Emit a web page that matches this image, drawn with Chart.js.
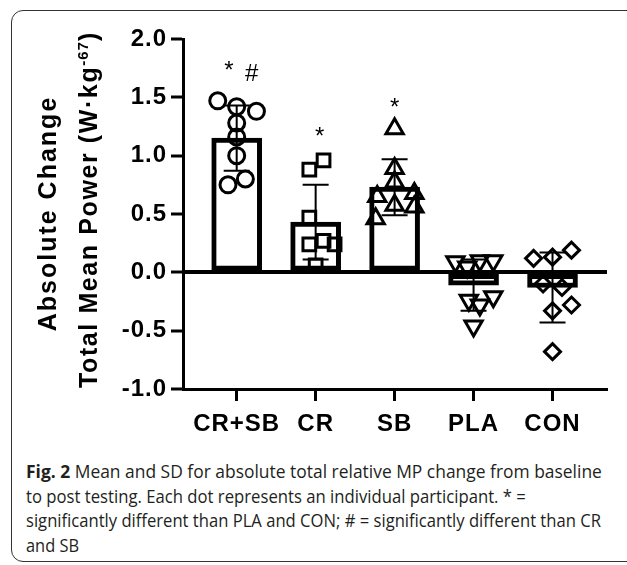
<!DOCTYPE html>
<html>
<head>
<meta charset="utf-8">
<script src="https://cdn.jsdelivr.net/npm/chart.js@4.4.0/dist/chart.umd.min.js"></script>
<style>
body{margin:0;background:#fff;width:627px;height:565px;overflow:hidden;position:relative}
#marco{position:absolute;left:11px;top:10px;width:660px;height:552px;border:1.5px solid #333;border-radius:12px;box-sizing:border-box}
#caja{position:absolute;left:0;top:0;width:627px;height:450px}
#pie{position:absolute;left:26px;top:459px;font-family:"Open Sans";font-size:18px;line-height:24.7px;color:#231f20;white-space:nowrap}
#pie div{transform-origin:0 0}
#l1{transform:scaleX(0.968)}
#l2{transform:scaleX(0.927)}
#l3{transform:scaleX(0.923)}
#l4{transform:scaleX(0.91)}
</style>
</head>
<body>
<div id="marco"></div>
<div id="caja"><canvas id="myChart" width="627" height="450"></canvas></div>
<div id="pie">
<div id="l1"><b>Fig. 2</b> Mean and SD for absolute total relative MP change from baseline</div>
<div id="l2">to post testing. Each dot represents an individual participant. * =</div>
<div id="l3">significantly different than PLA and CON; # = significantly different than CR</div>
<div id="l4">and SB</div>
</div>
<script>
// grupos y valores
const grupos = ['CR+SB', 'CR', 'SB', 'PLA', 'CON'];
const medias = [1.15, 0.43, 0.73, -0.11, -0.13];
const desv = [0.28, 0.32, 0.24, 0.22, 0.30];

// participantes (valor) y desplazamiento horizontal dentro del grupo
const crsbY = [1.47, 1.42, 1.38, 1.28, 1.16, 1.00, 0.75, 0.80];
const crsbJ = [-0.24, 0, 0.25, 0, 0, 0, -0.11, 0.11];
const crY = [0.96, 0.88, 0.47, 0.27, 0.24, 0.24, 0.06];
const crJ = [0.1, -0.08, -0.08, 0.1, -0.08, 0.24, 0];
const sbY = [1.23, 0.89, 0.775, 0.65, 0.675, 0.575, 0.56, 0.46];
const sbJ = [0, 0, 0, -0.22, 0.25, 0, 0.25, -0.24];
const plaY = [0.09, 0.045, 0.10, 0.10, -0.24, -0.28, -0.21, -0.46];
const plaJ = [-0.23, -0.08, 0.08, 0.25, -0.06, 0.08, 0.25, 0];
const conY = [0.12, 0.13, 0.19, -0.10, -0.13, -0.28, -0.33, -0.68];
const conJ = [-0.24, 0, 0.24, -0.12, 0.12, 0.24, 0, 0];

const yTicks = [-1.0, -0.5, 0.0, 0.5, 1.0, 1.5, 2.0];

// marcas de significancia
const anotTexto = ['*', '#', '*', '*'];
const anotX = [-0.1, 0.19, 1.05, 2.0];
const anotY = [1.77, 1.71, 1.205, 1.46];

const fuente = '"Liberation Sans", Arial, sans-serif';

function puntos(ys, js, i) {
    return ys.map((v, k) => ({ x: i + js[k], y: v }));
}

const espaciado = {
    id: 'espaciado',
    beforeUpdate(chart) { chart.ctx.letterSpacing = '1px'; },
    beforeDraw(chart) { chart.ctx.letterSpacing = '1px'; }
};

const barrasError = {
    id: 'barrasError',
    afterDatasetsDraw(chart) {
        const { ctx, scales: { x, y } } = chart;
        ctx.save();
        ctx.strokeStyle = '#000';
        ctx.lineWidth = 2;
        medias.forEach((m, i) => {
            const px = x.getPixelForValue(i);
            const arriba = y.getPixelForValue(m + desv[i]);
            const abajo = y.getPixelForValue(m - desv[i]);
            ctx.beginPath();
            ctx.moveTo(px, arriba); ctx.lineTo(px, abajo);
            ctx.moveTo(px - 13, arriba); ctx.lineTo(px + 13, arriba);
            ctx.moveTo(px - 13, abajo); ctx.lineTo(px + 13, abajo);
            ctx.stroke();
        });
        // asteriscos y almohadilla
        ctx.letterSpacing = '0px';
        ctx.fillStyle = '#000';
        ctx.font = '24px ' + fuente;
        ctx.textAlign = 'center';
        ctx.textBaseline = 'alphabetic';
        anotTexto.forEach((t, i) => {
            const m = ctx.measureText(t);
            const cy = y.getPixelForValue(anotY[i]);
            const base = cy + (m.actualBoundingBoxAscent - m.actualBoundingBoxDescent) / 2;
            ctx.fillText(t, x.getPixelForValue(anotX[i]), base);
        });
        ctx.restore();
    }
};

const tituloY = {
    id: 'tituloY',
    afterDraw(chart) {
        const ctx = chart.ctx;
        ctx.save();
        ctx.fillStyle = '#000';
        ctx.letterSpacing = '2px';
        ctx.textBaseline = 'alphabetic';
        ctx.translate(56, 213.5);
        ctx.rotate(-Math.PI / 2);
        ctx.font = 'bold 25px ' + fuente;
        ctx.textAlign = 'center';
        ctx.fillText('Absolute Change', 0, 0);
        ctx.restore();

        ctx.save();
        ctx.fillStyle = '#000';
        ctx.letterSpacing = '1.6px';
        ctx.textBaseline = 'alphabetic';
        ctx.textAlign = 'left';
        ctx.translate(97, 388);
        ctx.rotate(-Math.PI / 2);
        let pos = 0;
        const parte1 = 'Total Mean Power (W\u00B7kg';
        ctx.font = 'bold 25px ' + fuente;
        ctx.fillText(parte1, pos, 0);
        pos += ctx.measureText(parte1).width;
        ctx.font = 'bold 15px ' + fuente;
        ctx.letterSpacing = '1px';
        ctx.fillText('-67', pos, -9);
        pos += ctx.measureText('-67').width;
        ctx.font = 'bold 25px ' + fuente;
        ctx.letterSpacing = '1.6px';
        ctx.fillText(')', pos, 0);
        ctx.restore();
    }
};

const marcador = {
    borderColor: '#000',
    backgroundColor: 'rgba(0,0,0,0)',
    pointBorderWidth: 3,
    order: 1
};

var ctx = document.getElementById('myChart').getContext('2d');
const myChart = new Chart(ctx, {
    type: 'bar',
    data: {
        datasets: [
            {
                type: 'bar',
                data: grupos.map((g, i) => ({ x: i, y: medias[i] })),
                backgroundColor: '#fff',
                borderColor: '#000',
                borderWidth: 5,
                borderSkipped: false,
                barThickness: 50,
                order: 2
            },
            Object.assign({ type: 'scatter', data: puntos(crsbY, crsbJ, 0), pointStyle: 'circle', pointRadius: 8 }, marcador),
            Object.assign({ type: 'scatter', data: puntos(crY, crJ, 1), pointStyle: 'rect', pointRadius: 9 }, marcador),
            Object.assign({ type: 'scatter', data: puntos(sbY, sbJ, 2), pointStyle: 'triangle', pointRadius: 10 }, marcador),
            Object.assign({ type: 'scatter', data: puntos(plaY, plaJ, 3), pointStyle: 'triangle', pointRadius: 10, pointRotation: 180 }, marcador),
            Object.assign({ type: 'scatter', data: puntos(conY, conJ, 4), pointStyle: 'rectRot', pointRadius: 8 }, marcador)
        ]
    },
    options: {
        responsive: false,
        animation: false,
        events: [],
        layout: { padding: { top: 39, right: 20, left: 0, bottom: 1 } },
        plugins: { legend: { display: false }, tooltip: { enabled: false } },
        scales: {
            x: {
                type: 'linear',
                offset: false,
                min: -0.68,
                max: 4.69,
                afterBuildTicks: s => { s.ticks = grupos.map((g, i) => ({ value: i })); },
                afterFit: s => { s.height = 60; },
                ticks: {
                    callback: v => grupos[v],
                    color: '#000',
                    font: { family: fuente, size: 24, weight: 'bold' },
                    padding: 9,
                    autoSkip: false,
                    maxRotation: 0
                },
                border: { color: '#000', width: 3 },
                grid: { offset: false, drawOnChartArea: false, tickLength: 12, tickColor: '#000', tickWidth: 3 }
            },
            y: {
                min: -1,
                max: 2,
                afterBuildTicks: s => { s.ticks = yTicks.map(v => ({ value: v })); },
                afterFit: s => { s.width = 183; },
                ticks: {
                    callback: v => v.toFixed(1),
                    color: '#000',
                    font: { family: fuente, size: 24, weight: 'bold' },
                    padding: 4
                },
                border: { color: '#000', width: 3 },
                grid: {
                    color: c => (c.tick && c.tick.value === 0) ? '#000' : 'rgba(0,0,0,0)',
                    lineWidth: 4,
                    tickLength: 12,
                    tickColor: '#000',
                    tickWidth: 3
                }
            }
        }
    },
    plugins: [espaciado, barrasError, tituloY]
});
</script>
</body>
</html>
